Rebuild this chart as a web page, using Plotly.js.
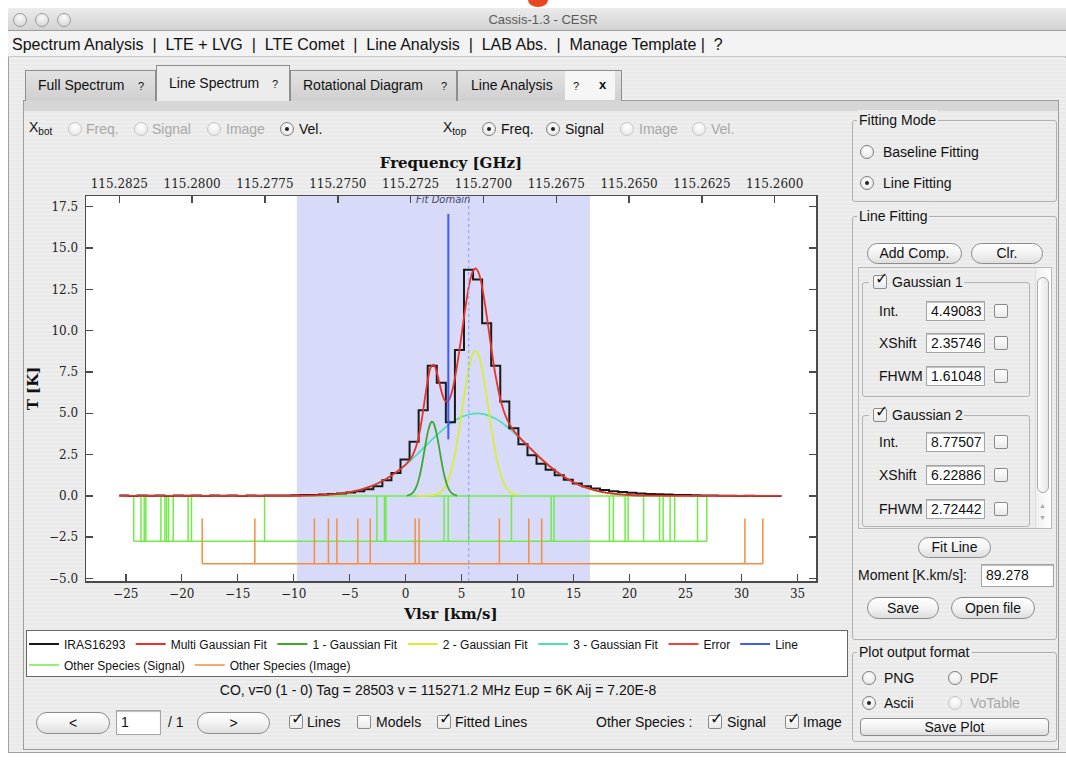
<!DOCTYPE html>
<html><head><meta charset="utf-8">
<script src="https://cdn.plot.ly/plotly-3.0.1.min.js"></script>
<style>
html,body{margin:0;padding:0;}
body{width:1066px;height:761px;position:relative;overflow:hidden;background:#fff;font-family:"Liberation Sans","DejaVu Sans",sans-serif;font-size:13px;color:#111;}
#gui{position:absolute;left:0;top:0;width:1066px;height:761px;}
#plot{position:absolute;left:0;top:0;width:1066px;height:761px;}
sub{font-size:10px;vertical-align:-3px;}
</style></head><body>
<div id="gui"></div>
<div id="plot"></div>
<script>
// ---------------- DATA ----------------
// Observed spectrum IRAS16293 (step; left channel edges in km/s, T in K)
const velEdges = [-25.57,-24.76,-23.95,-23.14,-22.33,-21.52,-20.71,-19.90,-19.09,-18.28,-17.47,-16.66,-15.85,-15.04,-14.23,-13.42,-12.61,-11.80,-10.99,-10.18,-9.37,-8.56,-7.75,-6.94,-6.13,-5.32,-4.51,-3.70,-2.89,-2.08,-1.27,-0.46,0.35,1.16,1.97,2.78,3.59,4.40,5.21,6.02,6.83,7.64,8.45,9.26,10.07,10.88,11.69,12.50,13.31,14.12,14.93,15.74,16.55,17.36,18.17,18.98,19.79,20.60,21.41,22.22,23.03,23.84,24.65,25.46,26.27,27.08,27.89,28.70,29.51,30.32,31.13,31.94,32.75,33.56];
const tempK = [0.02,0.00,0.03,0.01,0.02,0.00,0.03,0.01,0.02,0.00,0.02,0.01,0.03,0.00,0.02,0.01,0.03,0.02,0.03,0.04,0.05,0.06,0.08,0.11,0.15,0.20,0.28,0.40,0.59,0.95,1.39,2.20,3.27,5.19,7.88,6.85,4.45,8.83,13.68,13.10,10.45,7.88,5.72,4.10,3.13,2.46,1.95,1.58,1.25,0.98,0.75,0.58,0.45,0.35,0.28,0.23,0.19,0.15,0.12,0.10,0.08,0.06,0.05,0.04,0.03,0.02,0.01,0.01,0.00,0.01,0.00,0.00,0.00,0.00];
// Multi Gaussian fit
const fitVel = [-25.57,-20,-15,-12,-10,-8,-6,-5,-4,-3,-2.5,-2,-1.5,-1,-0.5,0,0.5,1,1.25,1.5,1.75,2,2.25,2.5,2.75,3,3.25,3.5,3.75,4,4.25,4.5,4.75,5,5.25,5.5,5.75,6,6.25,6.5,6.75,7,7.25,7.5,7.75,8,8.5,9,9.5,10,10.5,11,12,13,14,15,16,17,18,20,22,25,28,33.56];
const fitT = [0,0,0,0.002,0.008,0.035,0.126,0.223,0.376,0.605,0.754,0.928,1.129,1.356,1.611,1.90,2.303,3.127,3.883,4.88,6.034,7.099,7.79,7.942,7.563,6.875,6.194,5.765,5.698,6.003,6.619,7.506,8.586,9.774,10.994,12.105,13.014,13.59,13.774,13.534,12.909,11.978,10.845,9.639,8.468,7.399,5.748,4.718,4.091,3.663,3.31,2.968,2.31,1.718,1.216,0.821,0.528,0.323,0.189,0.056,0.013,0.001,0,0];
// Gaussian components
const g1Vel = [0.1,0.25,0.5,0.75,1,1.25,1.5,1.75,2,2.25,2.36,2.5,2.75,3,3.25,3.5,3.75,4,4.25,4.5,4.6];
const g1T = [0.019,0.039,0.113,0.284,0.627,1.212,2.048,3.029,3.918,4.435,4.49,4.393,3.807,2.887,1.915,1.112,0.564,0.251,0.098,0.033,0.021];
const g2Vel = [1,1.5,2,2.5,3,3.25,3.5,3.75,4,4.25,4.5,4.75,5,5.25,5.5,5.75,6,6.23,6.5,6.75,7,7.25,7.5,7.75,8,8.25,8.5,8.75,9,9.5,10];
const g2T = [0,0.002,0.011,0.049,0.178,0.319,0.543,0.884,1.372,2.031,2.873,3.876,4.991,6.134,7.195,8.054,8.605,8.775,8.537,7.929,7.028,5.945,4.799,3.698,2.719,1.908,1.278,0.817,0.498,0.161,0.043];
const g3Vel = [-8.6,-8,-6,-4,-2,-1,0,1,2,3,4,5,6,6.35,7,8,9,10,11,12,13,14,15,16,17,18,20,21.3];
const g3T = [0.023,0.035,0.126,0.376,0.928,1.356,1.888,2.5,3.17,3.81,4.38,4.78,4.985,5.0,4.95,4.68,4.22,3.62,2.966,2.31,1.718,1.216,0.821,0.528,0.323,0.189,0.056,0.023];
// Selected line marker
const lineVel = [3.81, 3.81];
const lineT = [3.42, 17.07];
const restVel = [5.63];
const fitDomain = [-9.72, 16.46];
// Other species markers
const signalVel = [-24.29,-23.64,-23.35,-23.2,-21.86,-21.5,-21.35,-21.18,-20.76,-19.43,-19.13,-12.6,-2.57,-1.89,-1.77,3.43,3.8,5.63,9.45,13.0,13.25,18.2,18.55,19.6,19.87,21.25,22.68,23.0,23.62,24.03,26.07,26.9];
const signalLevels = [0, -2.75];
const imageVel = [-18.17,-13.47,-8.15,-6.9,-6.14,-4.27,-3.16,0.85,1.2,8.37,11.0,12.15,30.3,31.9];
const imageLevels = [-1.37, -4.1];
// Axis ticks
const velTicks = [-25,-20,-15,-10,-5,0,5,10,15,20,25,30,35];
const tempTicks = [-5,-2.5,0,2.5,5,7.5,10,12.5,15,17.5];
const freqTicks = [115.2825,115.2800,115.2775,115.2750,115.2725,115.2700,115.2675,115.2650,115.2625,115.2600];
const freqTickText = ['115.2825','115.2800','115.2775','115.2750','115.2725','115.2700','115.2675','115.2650','115.2625','115.2600'];
const velRange = [-28.55, 36.65];
const tempRange = [-5.15, 18.15];
const freqRange = [115.283643, 115.258583];

// ---------------- GUI (window chrome) ----------------
const gui = document.getElementById('gui');
function box(x,y,w,h,css,html){const d=document.createElement('div');d.style.cssText='position:absolute;box-sizing:border-box;left:'+x+'px;top:'+y+'px;width:'+w+'px;height:'+h+'px;'+(css||'');if(html!=null)d.innerHTML=html;gui.appendChild(d);return d;}
function txt(x,cy,s,css){const d=document.createElement('div');d.style.cssText='position:absolute;white-space:nowrap;left:'+x+'px;top:'+(cy-10)+'px;height:20px;line-height:20px;'+(css||'');d.innerHTML=s;gui.appendChild(d);return d;}
function ctxt(cx,cy,s,css){return txt(cx,cy,s,'transform:translateX(-50%);'+(css||''));}
const stripe='background:repeating-linear-gradient(180deg,#eeeeee 0,#eeeeee 2px,#e9e9e9 2px,#e9e9e9 4px);';
function radio(cx,cy,on,dis){box(cx-7,cy-7,14,14,'border-radius:50%;border:1px solid '+(dis?'#c6c6c6':'#7d7d7d')+';background:radial-gradient(circle at 50% 35%,#fff,#e2e2e2);',on?'<div style="position:absolute;left:4px;top:4px;width:4px;height:4px;border-radius:50%;background:#222"></div>':'');}
function chk(x,cy,on){box(x,cy-7,14,14,'border:1px solid #8a8a8a;border-radius:2px;background:linear-gradient(#fff,#e9e9e9);',on?'<div style="position:absolute;left:1px;top:-7px;font-size:16px;font-weight:bold;font-family:DejaVu Sans;color:#111">&#10003;</div>':'');}
function btn(x,y,w,h,label,r){box(x,y,w,h,'border:1px solid #8c8c8c;border-radius:'+(r==null?h/2:r)+'px;background:linear-gradient(#ffffff,#f3f3f3 50%,#dedede);text-align:center;line-height:'+(h-2)+'px;font-size:14px;',label);}
function group(x,y,w,h,title){box(x,y,w,h,'border:1px solid #b0b0b0;border-radius:3px;');txt(x+5,y,title,'background:#ececec;padding:0 2px;font-size:14px;');}
function input(x,y,w,h,val){box(x,y,w,h,'background:#fff;border:1px solid #a5a5a5;box-shadow:inset 0 1px 1px #bbb;padding-left:4px;line-height:'+(h-2)+'px;font-size:14px;overflow:hidden;white-space:nowrap;',val);}

box(528,-7,20,14,'border-radius:50%;background:#e8461e;');
box(8,8,1058,745,'background:#ececec;border:1px solid #a0a0a0;');
box(8,8,1058,23,'background:linear-gradient(#ebebeb,#d3d3d3);border-bottom:1px solid #9c9c9c;');
[20,42,64].forEach(cx=>box(cx-7,13,14,14,'border-radius:50%;border:1px solid #9b9b9b;background:radial-gradient(circle at 50% 30%,#fafafa,#d0d0d0);'));
ctxt(543,20,'Cassis-1.3 - CESR','color:#5a5a5a;font-size:13px;');
box(8,31,1058,26,'background:#f3f3f3;border-bottom:1px solid #c8c8c8;');
txt(12,45,'Spectrum Analysis &nbsp;| &nbsp;LTE + LVG &nbsp;| &nbsp;LTE Comet &nbsp;| &nbsp;Line Analysis &nbsp;| &nbsp;LAB Abs. &nbsp;| &nbsp;Manage Template | &nbsp;?','font-size:16px;');
box(9,58,1057,694,stripe);
box(23,100,1036,650,stripe+'border:1px solid #9d9d9d;');
box(24,101,1034,10,'background:#d6d6d6;');
const tabCss='background:linear-gradient(#e2e2e2,#cfcfcf);border:1px solid #8e8e8e;border-bottom:none;';
box(25,70,131,31,tabCss); txt(38,85,'Full Spectrum','font-size:14px'); txt(138,86,'?','font-size:11px');
box(156,65,134,36,'background:#ececec;border:1px solid #8e8e8e;border-bottom:none;'); txt(169,83,'Line Spectrum','font-size:14px'); txt(272,84,'?','font-size:11px');
box(290,70,167,31,tabCss); txt(303,85,'Rotational Diagram','font-size:14px'); txt(441,86,'?','font-size:11px');
box(457,70,165,31,tabCss); txt(471,85,'Line Analysis','font-size:14px'); box(565,71,50,29,'background:#f6f6f6;'); txt(573,86,'?','font-size:11px'); txt(599,85,'x','font-size:13px;font-weight:bold');

const dis='color:#a8a8a8;font-size:14px';
txt(29,127,'X<sub>bot</sub>','font-size:14px');
radio(75,129,false,true); txt(86,129,'Freq.',dis);
radio(141,129,false,true); txt(152,129,'Signal',dis);
radio(214,129,false,true); txt(226,129,'Image',dis);
radio(287,129,true); txt(299,129,'Vel.','font-size:14px');
txt(443,127,'X<sub>top</sub>','font-size:14px');
radio(489,129,true); txt(501,129,'Freq.','font-size:14px');
radio(553,129,true); txt(565,129,'Signal','font-size:14px');
radio(627,129,false,true); txt(639,129,'Image',dis);
radio(699,129,false,true); txt(711,129,'Vel.',dis);

group(852,120,205,82,'Fitting Mode');
radio(867,152,false); txt(883,152,'Baseline Fitting','font-size:14px');
radio(867,183,true); txt(883,183,'Line Fitting','font-size:14px');
group(852,216,205,424,'Line Fitting');
btn(867,243,95,21,'Add Comp.'); btn(971,243,72,21,'Clr.');
box(858,267,194,262,'border:1px solid #b8b8b8;');
box(1035,268,16,260,'background:linear-gradient(90deg,#f0f0f0,#fff);border-left:1px solid #ddd;');
box(1037,277,12,216,'border:1px solid #a8a8a8;border-radius:6px;background:linear-gradient(90deg,#fff,#e6e6e6);');
txt(1039,506,'&#9650;','font-size:7px;color:#aaa'); txt(1039,518,'&#9660;','font-size:7px;color:#aaa');
function gauss(y0,y1,title,vals,rows){
  box(862,y0,168,y1-y0,'border:1px solid #b4b4b4;border-radius:3px;');
  box(869,y0-8,95,16,'background:#ececec');
  chk(873,y0,true); txt(892,y0,title,'font-size:14px');
  const labels=['Int.','XShift','FHWM'];
  rows.forEach((cy,i)=>{txt(879,cy,labels[i],'font-size:14px'); input(926,cy-10,59,20,vals[i]); chk(994,cy,false);});
}
gauss(282,397,'Gaussian 1',['4.49083','2.35746','1.61048'],[311,343,376]);
gauss(415,527,'Gaussian 2',['8.77507','6.22886','2.72442'],[442,475,509]);
btn(918,537,73,21,'Fit Line');
txt(858,575,'Moment [K.km/s]:','font-size:14px'); input(981,564,73,23,'89.278');
btn(867,597,72,22,'Save'); btn(951,597,84,22,'Open file');
group(852,652,205,90,'Plot output format');
radio(869,678,false); txt(884,678,'PNG','font-size:14px'); radio(955,678,false); txt(970,678,'PDF','font-size:14px');
radio(869,703,true); txt(884,703,'Ascii','font-size:14px'); radio(955,703,false,true); txt(970,703,'VoTable',dis);
btn(860,718,189,18,'Save Plot',4);

box(26,630,822,47,'background:#fff;border:1px solid #666;');
ctxt(438,690,'CO, v=0 (1 - 0) Tag = 28503 v = 115271.2 MHz Eup = 6K Aij = 7.20E-8','font-size:14px');
btn(36,712,74,22,'&lt;'); input(116,710,45,25,'1'); txt(168,722,'/ 1','font-size:14px'); btn(197,712,73,22,'&gt;');
chk(289,722,true); txt(307,722,'Lines','font-size:14px');
chk(357,722,false); txt(376,722,'Models','font-size:14px');
chk(437,722,true); txt(455,722,'Fitted Lines','font-size:14px');
txt(596,722,'Other Species :','font-size:14px');
chk(708,722,true); txt(727,722,'Signal','font-size:14px');
chk(785,722,true); txt(803,722,'Image','font-size:14px');

// ---------------- PLOT ----------------
function markers(vels, top, bottom, withTop){
  const xs=[], ys=[];
  vels.forEach(v=>{xs.push(v,v,null); ys.push(top,bottom,null);});
  const lo=Math.min(...vels), hi=Math.max(...vels);
  xs.push(lo,hi,null); ys.push(bottom,bottom,null);
  if(withTop){xs.push(lo,hi,null); ys.push(top,top,null);}
  return {xs, ys};
}
const sig = markers(signalVel, signalLevels[0], signalLevels[1], true);
const img = markers(imageVel, imageLevels[0], imageLevels[1], false);

const L1='legend', L2='legend2';
const traces = [
  {x:sig.xs, y:sig.ys, mode:'lines', name:'Other Species (Signal)', line:{color:'rgb(112,236,72)', width:1.5}, legend:L2, legendrank:1},
  {x:img.xs, y:img.ys, mode:'lines', name:'Other Species (Image)', line:{color:'rgb(244,142,62)', width:1.5}, legend:L2, legendrank:2},
  {x:g3Vel, y:g3T, mode:'lines', name:'3 - Gaussian Fit', line:{color:'rgb(80,222,180)', width:1.8, shape:'spline'}, legend:L1, legendrank:5},
  {x:g2Vel, y:g2T, mode:'lines', name:'2 - Gaussian Fit', line:{color:'rgb(214,238,52)', width:1.8, shape:'spline'}, legend:L1, legendrank:4},
  {x:g1Vel, y:g1T, mode:'lines', name:'1 - Gaussian Fit', line:{color:'rgb(62,168,46)', width:1.8, shape:'spline'}, legend:L1, legendrank:3},
  {x:velEdges, y:tempK, mode:'lines', name:'IRAS16293', line:{color:'#1a1a1a', width:2, shape:'hv'}, legend:L1, legendrank:1},
  {x:fitVel, y:fitT, mode:'lines', name:'Multi Gaussian Fit', line:{color:'rgb(232,52,40)', width:1.8, shape:'spline'}, legend:L1, legendrank:2},
  {x:[null], y:[null], mode:'lines', name:'Error', line:{color:'rgb(236,70,60)', width:1.8}, legend:L1, legendrank:6},
  {x:lineVel, y:lineT, mode:'lines', name:'Line', line:{color:'rgb(60,92,255)', width:2}, legend:L1, legendrank:7},
  {x:[freqTicks[0]], y:[null], xaxis:'x2', mode:'lines', showlegend:false, hoverinfo:'skip'}
];

const serif='DejaVu Serif, Liberation Serif, serif';
const axCol='#4a4a4a';
const W=1066, ml=86, mr=250, mt=196, mb=180;
const pw=W-ml-mr, ph=761-mt-mb;
const legFont={family:'Liberation Sans, Arial, sans-serif', size:12, color:'#111'};
const layout = {
  width:W, height:761,
  margin:{l:ml, r:mr, t:mt, b:mb, pad:0},
  paper_bgcolor:'rgba(0,0,0,0)', plot_bgcolor:'#ffffff',
  showlegend:true,
  xaxis:{range:velRange, tickvals:velTicks, ticks:'inside', ticklen:7, tickwidth:1.5, tickcolor:axCol,
         showline:true, linecolor:axCol, linewidth:1.5, mirror:true, showgrid:false, zeroline:false,
         tickfont:{family:serif, size:12, color:'#222'}, ticklabelstandoff:1,
         title:{text:'<b>Vlsr [km/s]</b>', font:{family:serif, size:15, color:'#111'}, standoff:8}},
  xaxis2:{range:freqRange, overlaying:'x', side:'top', anchor:'y', tickvals:freqTicks, ticktext:freqTickText,
          ticks:'inside', ticklen:7, tickwidth:1.5, tickcolor:axCol, showline:false, showgrid:false, zeroline:false,
          tickfont:{family:serif, size:12, color:'#222'}, ticklabelstandoff:5,
          title:{text:'<b>Frequency [GHz]</b>', font:{family:serif, size:15, color:'#111'}, standoff:4}},
  yaxis:{range:tempRange, tickvals:tempTicks, tickformat:'.1f', ticks:'inside', ticklen:7, tickwidth:1.5, tickcolor:axCol,
         showline:true, linecolor:axCol, linewidth:1.5, mirror:'ticks', showgrid:false, zeroline:false,
         tickfont:{family:serif, size:12, color:'#222'}, ticklabelstandoff:4,
         title:{text:'<b>T [K]</b>', font:{family:serif, size:15, color:'#111'}, standoff:6}},
  shapes:[
    {type:'rect', xref:'x', yref:'paper', x0:fitDomain[0], x1:fitDomain[1], y0:0, y1:1, fillcolor:'rgb(216,218,250)', line:{width:0}, layer:'below'},
    {type:'line', xref:'x', yref:'paper', x0:restVel[0], x1:restVel[0], y0:0, y1:1, line:{color:'rgb(150,162,255)', width:1.2, dash:'dot'}, layer:'above'}
  ],
  annotations:[
    {text:'<i>Fit Domain</i>', xref:'x', yref:'paper', x:(fitDomain[0]+fitDomain[1])/2, y:1, yanchor:'top', yshift:4, showarrow:false,
     font:{family:'DejaVu Sans, sans-serif', size:10, color:'#4a4a66'}}
  ],
  legend:{orientation:'h', x:(24-ml)/pw, xanchor:'left', y:(761-mb-644)/ph, yanchor:'middle', font:legFont, bgcolor:'rgba(0,0,0,0)', borderwidth:0, itemwidth:30, traceorder:'normal'},
  legend2:{orientation:'h', x:(24-ml)/pw, xanchor:'left', y:(761-mb-665)/ph, yanchor:'middle', font:legFont, bgcolor:'rgba(0,0,0,0)', borderwidth:0, itemwidth:30, traceorder:'normal'}
};
Plotly.newPlot('plot', traces, layout, {displayModeBar:false, staticPlot:true});
</script></body></html>
